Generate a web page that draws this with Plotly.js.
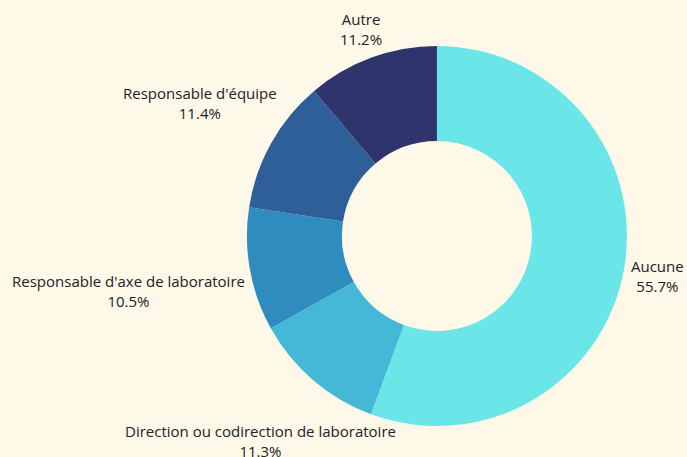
<!DOCTYPE html>
<html><head><meta charset="utf-8">
<script src="https://cdn.plot.ly/plotly-3.0.1.min.js"></script>
<style>html,body{margin:0;padding:0;background:#fef8e9;}</style>
</head><body><div id="chart" style="width:687px;height:457px;"></div>
<script>
const labels = ["Aucune", "Direction ou codirection de laboratoire", "Responsable d'axe de laboratoire", "Responsable d'équipe", "Autre"];
const values = [55.7, 11.3, 10.5, 11.4, 11.2];
const colors = ["#6ae5e8", "#44b8d6", "#2e8cbf", "#2f5f99", "#30346d"];

const W = 687, H = 457;
const margin = {l: 0, r: 0, t: 46, b: 31};
const domainX = [0.35, 0.922];
const fontFamily = "Open Sans";
const fontSize = 15;
const textColor = "#222";

const layout = {
  width: W, height: H,
  margin: margin,
  paper_bgcolor: "#fef8e9",
  plot_bgcolor: "#fef8e9",
  showlegend: false
};

Plotly.newPlot("chart", [{
  type: "pie",
  labels: labels,
  values: values,
  sort: false,
  direction: "clockwise",
  rotation: 0,
  hole: 0.5,
  marker: {colors: colors, line: {width: 0}},
  textinfo: "none",
  hoverinfo: "label+percent",
  domain: {x: domainX, y: [0, 1]},
  showlegend: false
}], layout, {displayModeBar: false}).then(function (gd) {
  const pw = W - margin.l - margin.r, ph = H - margin.t - margin.b;
  const cd0 = gd.calcdata && gd.calcdata[0] && gd.calcdata[0][0];
  const cx = (cd0 && isFinite(cd0.cx)) ? cd0.cx : margin.l + pw * (domainX[0] + domainX[1]) / 2;
  const cy = (cd0 && isFinite(cd0.cy)) ? cd0.cy : margin.t + ph / 2;
  const R = (cd0 && isFinite(cd0.r)) ? cd0.r : Math.min(pw * (domainX[1] - domainX[0]), ph) / 2;

  const ctx = document.createElement("canvas").getContext("2d");
  ctx.font = fontSize + "px '" + fontFamily + "'";
  const total = values.reduce((a, b) => a + b, 0);
  const R0 = R * 1.026;
  const halfH = fontSize * 1.3;
  let cum = 0;
  const annotations = labels.map(function (lab, i) {
    const frac = values[i] / total;
    const mid = (cum + frac / 2) * 2 * Math.PI;
    cum += frac;
    const s = Math.sin(mid), c = Math.cos(mid);
    const pct = values[i].toFixed(1) + "%";
    const halfW = Math.max(ctx.measureText(lab).width, ctx.measureText(pct).width) / 2;
    let d = R0 + halfW * Math.abs(s) + halfH * Math.abs(c);
    let px = cx + d * s, py = cy - d * c;
    const maxY = H - 16;
    if (py > maxY && c < 0) { d = (maxY - cy) / (-c); px = cx + d * s; py = cy - d * c; }
    return {
      xref: "paper", yref: "paper",
      x: (px - margin.l) / pw,
      y: (H - margin.b - py) / ph,
      xanchor: "center", yanchor: "middle",
      text: lab + "<br>" + pct,
      showarrow: false,
      align: "center",
      font: {family: fontFamily, size: fontSize, color: textColor}
    };
  });
  return Plotly.relayout(gd, {annotations: annotations});
});
</script></body></html>
